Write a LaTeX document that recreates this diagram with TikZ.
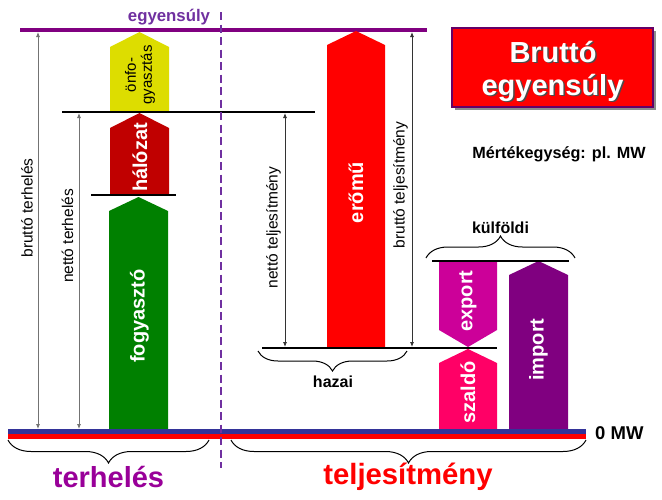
\documentclass[tikz,border=0pt]{standalone}
\usepackage{fontspec}
\setmainfont{Liberation Sans}
\usetikzlibrary{arrows.meta,decorations.pathreplacing}
\definecolor{topline}{HTML}{800080}
\definecolor{eqtext}{HTML}{7030A0}
\definecolor{cyellow}{HTML}{DDDD00}
\definecolor{cgrid}{HTML}{C00000}
\definecolor{cgreen}{HTML}{008000}
\definecolor{cred}{HTML}{FF0000}
\definecolor{cexport}{HTML}{CC0099}
\definecolor{csaldo}{HTML}{FF0066}
\definecolor{cimport}{HTML}{800080}
\definecolor{cblue}{HTML}{333399}
\definecolor{cterh}{HTML}{990099}
\definecolor{cborder}{HTML}{660066}
\begin{document}
\begin{tikzpicture}[x=1pt,y=-1pt,
  arrowlabel/.style={rotate=90,text=white,font=\fontsize{20}{20}\selectfont\bfseries,inner sep=0pt},
  dimlabel/.style={rotate=90,font=\fontsize{15.5}{15.5}\selectfont,inner sep=0pt},
  dimarrow/.style={{Latex[length=5pt,width=4pt]}-{Latex[length=5pt,width=4pt]},line width=0.8pt},
  levelline/.style={line width=2pt,black},
  bracelabel/.style={font=\fontsize{16}{16}\selectfont\bfseries,anchor=base,inner sep=0pt},
  bigbrace/.style={decorate,decoration={brace,amplitude=22pt},line width=1pt},
]
\useasboundingbox (0,0) rectangle (662,499);
\fill[white] (0,0) rectangle (662,499);

% ---- title label and top line
\node[anchor=base,inner sep=0pt,text=eqtext,font=\fontsize{16.8}{16.8}\selectfont\bfseries] (eqlabel) at (169,21) {egyensúly};
\draw[topline,line width=4pt] (20,30) coordinate (topL) -- (427,30) coordinate (topR);

% ---- block arrows (left side)
\fill[cyellow] (110,112) -- (110,47) -- (139.5,32) -- (169,47) -- (169,112) -- cycle;
\node[inner sep=0pt,rotate=90,align=center,font=\fontsize{15}{16}\selectfont] (onfo) at (140,75) {önfo-\\gyasztás};
\fill[cgrid] (110,195) -- (110,128) -- (139.5,113) -- (169,128) -- (169,195) -- cycle;
\node[arrowlabel] (halozat) at (140,157.5) {hálózat};
\fill[cgreen] (109,429) -- (109,211) -- (138.5,197) -- (168,211) -- (168,429) -- cycle;
\node[arrowlabel] (fogy) at (139.5,316) {fogyasztó};

% ---- block arrows (right side)
\fill[cred] (327,348) -- (327,45) -- (356,31) -- (385,45) -- (385,348) -- cycle;
\node[arrowlabel] (eromu) at (356,192.5) {erőmű};
\fill[cexport] (439,262) -- (497,262) -- (497,330) -- (468,347) -- (439,330) -- cycle;
\node[arrowlabel] (export) at (468,301) {export};
\fill[csaldo] (439,429) -- (439,363) -- (468,349) -- (497,363) -- (497,429) -- cycle;
\node[arrowlabel] (szaldo) at (468,392.5) {szaldó};
\fill[cimport] (509,429) -- (509,275) -- (538.5,261) -- (568,275) -- (568,429) -- cycle;
\node[arrowlabel] (import) at (538.5,349.5) {import};

% ---- level lines
\draw[levelline] (62,112) coordinate (nettoL) -- (315,112) coordinate (nettoR);
\draw[levelline] (91,195) coordinate (halL) -- (176,195) coordinate (halR);
\draw[levelline] (262,348) coordinate (hazaiL) -- (497,348) coordinate (hazaiR);
\draw[levelline] (432,261) coordinate (kulfL) -- (569,261) coordinate (kulfR);

% ---- baseline
\fill[cblue] (8,429) rectangle (586,434);
\fill[cred] (8,434) rectangle (586,439);
\node[anchor=base west,inner sep=0pt,font=\fontsize{18.5}{18.5}\selectfont\bfseries] (zero) at (595,439) {0 MW};

% ---- dimension arrows
\coordinate (bt1) at (38,32); \coordinate (bt2) at (38,429);
\draw[dimarrow,draw=black!55] (bt1) -- (bt2);
\node[dimlabel] (btlab) at (27,208) {bruttó terhelés};
\coordinate (nt1) at (79,113); \coordinate (nt2) at (79,429);
\draw[dimarrow,draw=black!55] (nt1) -- (nt2);
\node[dimlabel] (ntlab) at (67.5,236) {nettó terhelés};
\coordinate (nl1) at (285,113); \coordinate (nl2) at (285,347);
\draw[dimarrow,draw=black!80] (nl1) -- (nl2);
\node[dimlabel] (nllab) at (273.5,227.5) {nettó teljesítmény};
\coordinate (bl1) at (412,32); \coordinate (bl2) at (412,347);
\draw[dimarrow,draw=black!80] (bl1) -- (bl2);
\node[dimlabel] (bllab) at (400.5,185) {bruttó teljesítmény};

% ---- dashed separator
\draw[eqtext,line width=2pt,dash pattern=on 8pt off 4.5pt] (221,12) coordinate (sepT) -- (221,468) coordinate (sepB);

% ---- braces
\draw[bigbrace,decoration={mirror,amplitude=20pt}] (258,351) -- (407,351);
\node[bracelabel] (hazai) at (333,387) {hazai};
\draw[bigbrace,decoration={amplitude=22pt}] (426,258) -- (575,258);
\node[bracelabel] (kulf) at (500.5,233) {külföldi};
\draw[bigbrace,decoration={mirror,amplitude=23pt}] (8,440) -- (209,440);
\node[anchor=base,inner sep=0pt,text=cterh,font=\fontsize{29}{29}\selectfont\bfseries] (terh) at (108.5,487) {terhelés};
\draw[bigbrace,decoration={mirror,amplitude=23pt}] (231,440) -- (586,440);
\node[anchor=base,inner sep=0pt,text=cred,font=\fontsize{29.3}{29.3}\selectfont\bfseries] (telj) at (408,484) {teljesítmény};

% ---- title box
\fill[black!45] (455,31) rectangle (656,110);
\draw[cborder,line width=1.5pt,fill=cred] (452,28) rectangle (653,107);
\node[anchor=base,inner sep=0pt,text=black!70,font=\fontsize{29}{29}\selectfont\bfseries] at (554.5,63.5) {Bruttó};
\node[anchor=base,inner sep=0pt,text=white,font=\fontsize{29}{29}\selectfont\bfseries] (title1) at (553,62) {Bruttó};
\node[anchor=base,inner sep=0pt,text=black!70,font=\fontsize{29}{29}\selectfont\bfseries] at (554,96.5) {egyensúly};
\node[anchor=base,inner sep=0pt,text=white,font=\fontsize{29}{29}\selectfont\bfseries] (title2) at (552.5,95) {egyensúly};

\node[anchor=base,inner sep=0pt,font=\fontsize{16.2}{16.2}\selectfont\bfseries] (unit) at (559,158) {Mértékegység: pl. MW};
\end{tikzpicture}
\end{document}
